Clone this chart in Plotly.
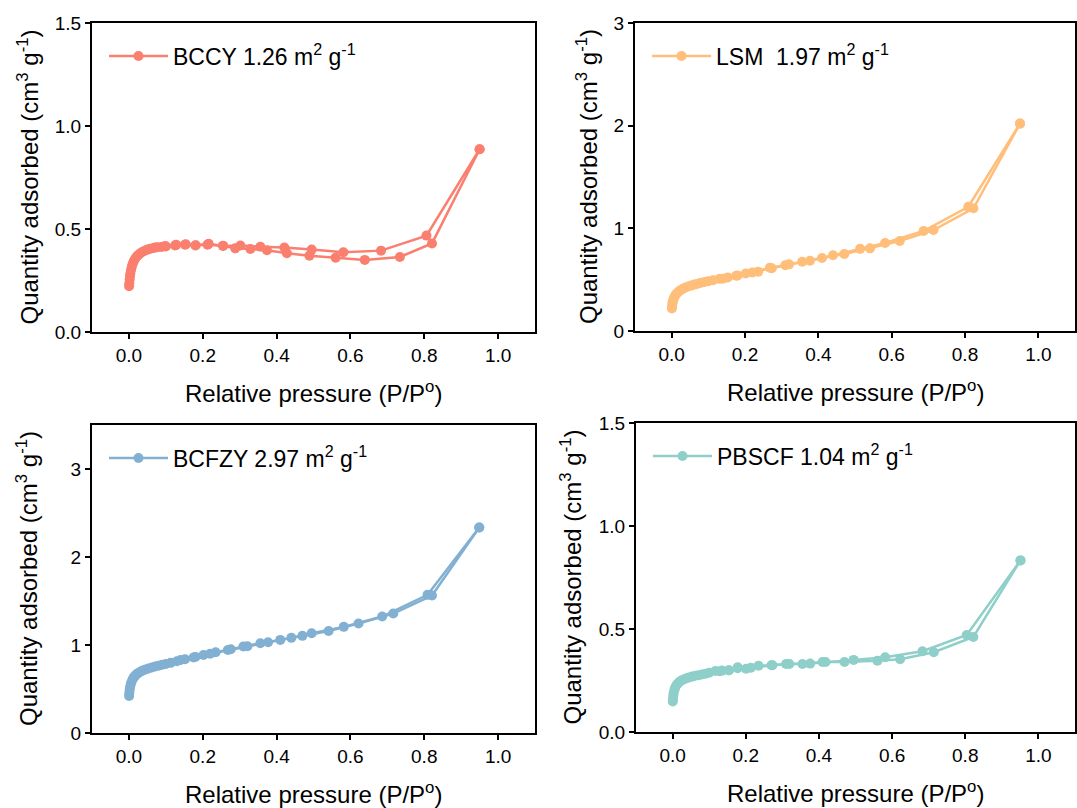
import plotly.graph_objects as go

# BET isotherms: adsorption / desorption branches
bccy_ads_x = [0.0005, 0.001, 0.002, 0.003, 0.004, 0.006, 0.008, 0.01, 0.013, 0.016, 0.02, 0.025, 0.03, 0.036,
              0.043, 0.05, 0.058, 0.067, 0.077, 0.088, 0.1, 0.125, 0.152, 0.181, 0.213, 0.255, 0.288, 0.329,
              0.374, 0.428, 0.489, 0.56, 0.639, 0.734, 0.821, 0.95]
bccy_ads_y = [0.222, 0.235, 0.255, 0.272, 0.285, 0.303, 0.318, 0.33, 0.343, 0.353, 0.364, 0.373, 0.381, 0.388,
              0.395, 0.4, 0.404, 0.408, 0.411, 0.413, 0.415, 0.42, 0.424, 0.421, 0.424, 0.419, 0.406, 0.403,
              0.397, 0.382, 0.37, 0.361, 0.35, 0.364, 0.43, 0.887]
bccy_des_x = [0.95, 0.806, 0.683, 0.581, 0.495, 0.421, 0.356, 0.302, 0.255, 0.216, 0.18, 0.154, 0.128, 0.098, 0.071]
bccy_des_y = [0.887, 0.468, 0.395, 0.387, 0.40, 0.41, 0.414, 0.42, 0.418, 0.428, 0.42, 0.426, 0.423, 0.418, 0.41]

lsm_ads_x = [0.0005, 0.001, 0.002, 0.003, 0.005, 0.007, 0.01, 0.013, 0.017, 0.021, 0.026, 0.032, 0.038, 0.045,
             0.053, 0.062, 0.071, 0.08, 0.09, 0.1, 0.113, 0.131, 0.153, 0.176, 0.202, 0.236, 0.273, 0.31,
             0.356, 0.41, 0.471, 0.541, 0.622, 0.714, 0.823, 0.95]
lsm_ads_y = [0.22, 0.24, 0.265, 0.285, 0.31, 0.328, 0.347, 0.362, 0.377, 0.39, 0.402, 0.414, 0.424, 0.433,
             0.442, 0.452, 0.461, 0.47, 0.478, 0.485, 0.495, 0.508, 0.522, 0.538, 0.56, 0.578, 0.612, 0.64,
             0.675, 0.711, 0.75, 0.805, 0.876, 0.983, 1.195, 2.02]
lsm_des_x = [0.95, 0.809, 0.687, 0.582, 0.514, 0.44, 0.377, 0.32, 0.268, 0.22, 0.18, 0.14]
lsm_des_y = [2.02, 1.21, 0.974, 0.857, 0.80, 0.737, 0.685, 0.649, 0.617, 0.57, 0.54, 0.51]

bcfzy_ads_x = [0.0005, 0.001, 0.002, 0.003, 0.005, 0.007, 0.01, 0.013, 0.017, 0.021, 0.026, 0.032, 0.038, 0.045,
               0.053, 0.062, 0.071, 0.08, 0.09, 0.1, 0.113, 0.13, 0.152, 0.175, 0.202, 0.235, 0.276, 0.31,
               0.356, 0.41, 0.47, 0.541, 0.622, 0.716, 0.821, 0.949]
bcfzy_ads_y = [0.42, 0.45, 0.49, 0.52, 0.555, 0.58, 0.61, 0.632, 0.652, 0.668, 0.683, 0.698, 0.71, 0.722,
               0.733, 0.745, 0.755, 0.765, 0.775, 0.785, 0.797, 0.815, 0.838, 0.857, 0.887, 0.918, 0.952, 0.982,
               1.02, 1.058, 1.104, 1.16, 1.244, 1.357, 1.562, 2.336]
bcfzy_des_x = [0.949, 0.809, 0.686, 0.582, 0.495, 0.44, 0.377, 0.321, 0.268, 0.22, 0.18, 0.14]
bcfzy_des_y = [2.336, 1.57, 1.323, 1.206, 1.134, 1.081, 1.032, 0.986, 0.944, 0.9, 0.865, 0.83]

pbscf_ads_x = [0.0005, 0.001, 0.002, 0.003, 0.005, 0.007, 0.01, 0.013, 0.017, 0.021, 0.026, 0.032, 0.038, 0.045,
               0.053, 0.062, 0.071, 0.08, 0.09, 0.1, 0.117, 0.135, 0.154, 0.178, 0.201, 0.235, 0.273, 0.31,
               0.355, 0.41, 0.47, 0.56, 0.622, 0.714, 0.822, 0.951]
pbscf_ads_y = [0.148, 0.16, 0.178, 0.19, 0.205, 0.215, 0.226, 0.233, 0.24, 0.246, 0.251, 0.256, 0.261, 0.265,
               0.269, 0.273, 0.276, 0.279, 0.283, 0.288, 0.296, 0.298, 0.30, 0.31, 0.307, 0.322, 0.324, 0.33,
               0.33, 0.34, 0.34, 0.346, 0.353, 0.387, 0.461, 0.833]
pbscf_des_x = [0.951, 0.804, 0.683, 0.581, 0.495, 0.418, 0.376, 0.319, 0.27, 0.214, 0.178, 0.154, 0.129]
pbscf_des_y = [0.833, 0.471, 0.392, 0.363, 0.35, 0.34, 0.332, 0.33, 0.324, 0.312, 0.314, 0.30, 0.295]

labels = ["BCCY 1.26 m<sup>2</sup> g<sup>-1</sup>",
          "LSM\u00a0 1.97 m<sup>2</sup> g<sup>-1</sup>",
          "BCFZY 2.97 m<sup>2</sup> g<sup>-1</sup>",
          "PBSCF 1.04 m<sup>2</sup> g<sup>-1</sup>"]
colors = ["#FA7F6F", "#FFBE7A", "#82B0D2", "#8ECFC9"]
y_ranges = [[0, 1.5], [0, 3], [0, 3.5], [0, 1.5]]
y_dticks = [0.5, 1, 1, 0.5]
y_formats = [".1f", "d", "d", ".1f"]

series = [(bccy_ads_x, bccy_ads_y, bccy_des_x, bccy_des_y),
          (lsm_ads_x, lsm_ads_y, lsm_des_x, lsm_des_y),
          (bcfzy_ads_x, bcfzy_ads_y, bcfzy_des_x, bcfzy_des_y),
          (pbscf_ads_x, pbscf_ads_y, pbscf_des_x, pbscf_des_y)]

W, H = 1077, 808
# panel boxes in pixels: left, right, top, bottom
boxes = [(92, 535, 23, 332), (635, 1075, 23, 331), (92, 535, 425, 733), (636, 1075, 423, 732)]
ytitle_gap = [65, 48, 65, 66]

FONT = "Arial, Liberation Sans, sans-serif"
fig = go.Figure()
annotations = []
layout = dict(width=W, height=H, margin=dict(l=0, r=0, t=0, b=0, autoexpand=False),
              paper_bgcolor="white", plot_bgcolor="white",
              font=dict(family=FONT, color="black"))

for i, (ax, ay, dx, dy) in enumerate(series):
    n = "" if i == 0 else str(i + 1)
    lg = "legend" + n
    for k, (xs, ys) in enumerate([(ax, ay), (dx, dy)]):
        fig.add_trace(go.Scatter(x=xs, y=ys, mode="lines+markers", name=labels[i],
                                 line=dict(color=colors[i], width=2.5),
                                 marker=dict(color=colors[i], size=10),
                                 xaxis="x" + n, yaxis="y" + n, legend=lg,
                                 showlegend=(k == 0)))
    l, r, t, b = boxes[i]
    layout["xaxis" + n] = dict(domain=[l / W, r / W], anchor="y" + n, range=[-0.1, 1.1], dtick=0.2,
                               tick0=0, tickformat=".1f", showline=True, linecolor="black", linewidth=2,
                               mirror=True, ticks="outside", ticklen=5, tickwidth=2, tickcolor="black",
                               showgrid=False, zeroline=False, tickfont=dict(size=19), automargin=False)
    layout["yaxis" + n] = dict(domain=[1 - b / H, 1 - t / H], anchor="x" + n, range=y_ranges[i],
                               dtick=y_dticks[i], tickformat=y_formats[i], showline=True,
                               linecolor="black", linewidth=2, mirror=True, ticks="outside", ticklen=5,
                               tickwidth=2, tickcolor="black", showgrid=False, zeroline=False,
                               tickfont=dict(size=19), automargin=False)
    layout[lg] = dict(x=(l + 12) / W, y=1 - (t + 33) / H, xanchor="left", yanchor="middle",
                      bgcolor="rgba(0,0,0,0)", font=dict(size=23), itemwidth=59)
    annotations.append(dict(text="Quantity adsorbed (cm<sup>3</sup> g<sup>-1</sup>)", textangle=-90,
                            x=(l - ytitle_gap[i]) / W, y=1 - (t + b) / 2 / H, xref="paper", yref="paper",
                            xanchor="center", yanchor="middle", showarrow=False, font=dict(size=24)))
    annotations.append(dict(text="Relative pressure (P/P<sup>o</sup>)",
                            x=(l + r) / 2 / W, y=1 - (b + 60) / H, xref="paper", yref="paper",
                            xanchor="center", yanchor="middle", showarrow=False, font=dict(size=24)))

layout["annotations"] = annotations
fig.update_layout(**layout)
fig.write_html("out.html", config={"displayModeBar": False},
               post_script="document.body.style.margin='0';")
